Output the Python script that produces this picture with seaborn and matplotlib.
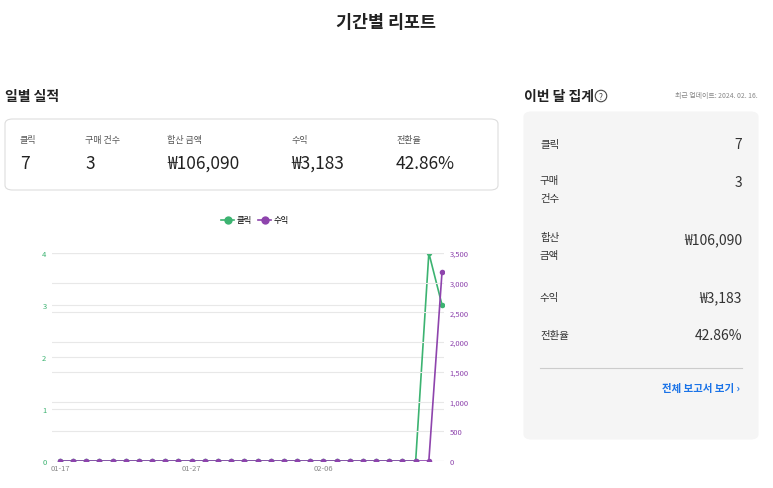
import numpy as np
import pandas as pd
import seaborn as sns
import matplotlib.pyplot as plt
from matplotlib.patches import FancyBboxPatch
from matplotlib.ticker import FuncFormatter

plt.rcParams['font.family'] = ['Noto Sans CJK JP', 'Noto Sans CJK KR', 'DejaVu Sans']

W, H = 773, 489
dates = pd.date_range('2024-01-17', '2024-02-15').strftime('%m-%d').tolist()
clicks = [0] * 28 + [4, 3]
revenue = [0] * 29 + [3183]
tick_labels = ['01-17', '01-27', '02-06']

summary_labels = ['클릭', '구매 건수', '합산 금액', '수익', '전환율']
summary_values = ['7', '3', '₩106,090', '₩3,183', '42.86%']

GREEN = '#3cb371'
PURPLE = '#8e44ad'

fig = plt.figure(figsize=(W / 100, H / 100), dpi=100)


def fx(x):
    return x / W


def fy(y):
    return 1 - y / H


def txt(x, y, s, **kw):
    kw.setdefault('va', 'center')
    fig.text(fx(x), fy(y), s, **kw)


def box(x0, y0, x1, y1, fc, ec):
    fig.patches.append(FancyBboxPatch((fx(x0), fy(y1)), fx(x1 - x0), fy(y0) - fy(y1),
                                      boxstyle='round,pad=0,rounding_size=0.01',
                                      transform=fig.transFigure, fc=fc, ec=ec, lw=0.8))


txt(386, 23, '기간별 리포트', ha='center', fontsize=12.5, fontweight='bold', color='#222222')

# daily panel
txt(5, 97, '일별 실적', fontsize=10, fontweight='bold', color='#222222')
box(5, 120, 498, 191, 'white', '#dddddd')
for x, lab, val in zip([20, 85, 167, 291, 396], summary_labels, summary_values):
    txt(x, 140, lab, fontsize=6.5, color='#555555')
    txt(x, 164, val, fontsize=12.5, color='#222222')

# monthly panel
txt(524, 97, '이번 달 집계', fontsize=10, fontweight='bold', color='#222222')
txt(601, 97, '?', ha='center', fontsize=6, color='#444444',
    bbox=dict(boxstyle='circle,pad=0.15', fc='white', ec='#444444', lw=0.8))
txt(758, 96, '최근 업데이트: 2024. 02. 16.', ha='right', fontsize=5, color='#888888')
box(524, 113, 758, 440, '#f5f5f5', '#f5f5f5')
rows = [(145, '클릭', '7'), (183, '구매\n\n건수', '3'), (240, '합산\n\n금액', '₩106,090'),
        (298, '수익', '₩3,183'), (336, '전환율', '42.86%')]
for y, lab, val in rows:
    va = 'top' if '\n' in lab else 'center'
    txt(540, y - 7 if va == 'top' else y, lab, fontsize=7.5, color='#333333', va=va, linespacing=0.9)
    txt(742, y, val, ha='right', fontsize=10, color='#333333')
fig.add_artist(plt.Line2D([fx(540), fx(742)], [fy(369), fy(369)], color='#cccccc', lw=0.8))
txt(740, 389, '전체 보고서 보기 ›', ha='right', fontsize=7.5, fontweight='bold', color='#1a73e8')

# chart
df = pd.DataFrame({'idx': np.arange(len(dates)), 'clicks': clicks, 'revenue': revenue})
ax = fig.add_axes([fx(52), fy(462), fx(444 - 52), fy(254) - fy(462)])
ax2 = ax.twinx()
sns.lineplot(data=df, x='idx', y='clicks', ax=ax, color=GREEN, marker='o', markersize=4,
             markeredgewidth=0, lw=1.2, label='클릭', legend=False)
sns.lineplot(data=df, x='idx', y='revenue', ax=ax2, color=PURPLE, marker='o', markersize=4,
             markeredgewidth=0, lw=1.2, label='수익', legend=False)
ax.set_xlim(-0.6, 29.15)
ax.set_ylim(0, 4)
ax2.set_ylim(0, 3500)
ax.set_yticks([0, 1, 2, 3, 4])
ax2.set_yticks(np.arange(0, 3501, 500))
ax2.yaxis.set_major_formatter(FuncFormatter(lambda v, p: f'{int(v):,}'))
ax.set_xticks([dates.index(t) for t in tick_labels])
ax.set_xticklabels(tick_labels)
for a, c in [(ax, GREEN), (ax2, PURPLE)]:
    a.set_xlabel('')
    a.set_ylabel('')
    a.tick_params(axis='y', length=0, labelsize=5.5, colors=c, pad=4)
    a.grid(axis='y', color='#e8e8e8', lw=0.8)
    for s in a.spines.values():
        s.set_visible(False)
ax.tick_params(axis='x', length=0, labelsize=5.5, colors='#888888', pad=2)
ax.set_axisbelow(True)
h1, l1 = ax.get_legend_handles_labels()
h2, l2 = ax2.get_legend_handles_labels()
fig.legend(h1 + h2, l1 + l2, loc='center', bbox_to_anchor=(fx(255), fy(221)), ncol=2,
           frameon=False, fontsize=6, handlelength=1.5, columnspacing=0.8, handletextpad=0.3,
           markerscale=1.5)

fig.savefig('out.png', dpi=100)
